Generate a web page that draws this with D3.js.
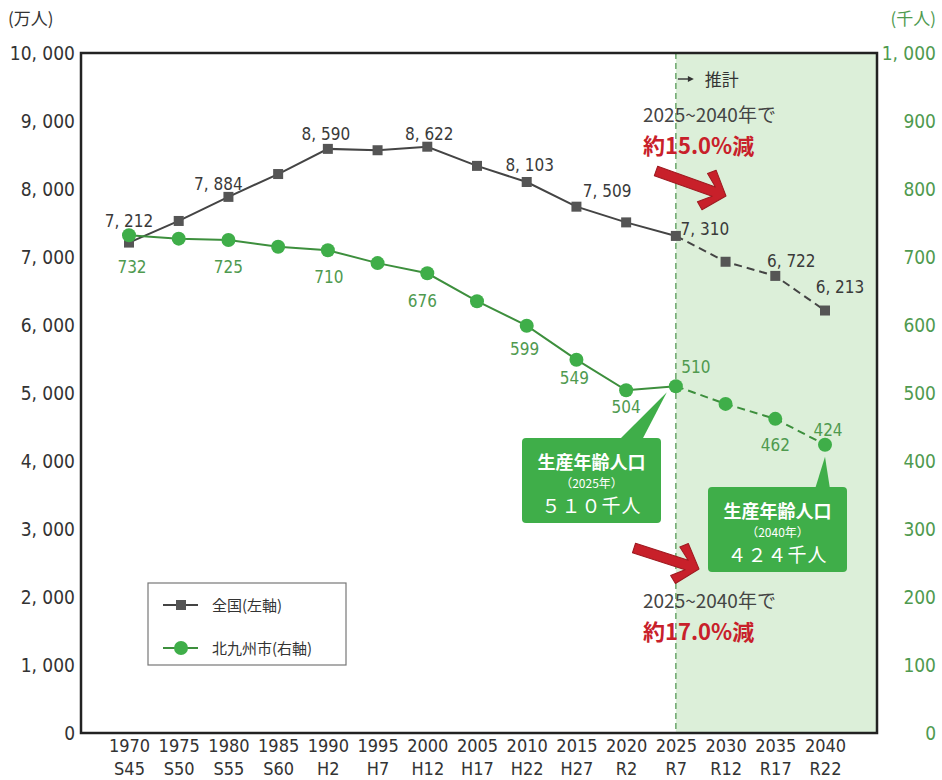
<!DOCTYPE html>
<html lang="ja">
<head>
<meta charset="utf-8">
<script src="https://cdn.jsdelivr.net/npm/d3@7/dist/d3.min.js"></script>
<style>
  body { margin: 0; background: #fff; }
  svg { display: block; }
  .num { font-family: "Liberation Sans Narrow", "DejaVu Sans Condensed", "Roboto Condensed", sans-serif; }
  .jp { font-family: "Noto Sans CJK JP", "Noto Sans", sans-serif; }
</style>
</head>
<body>
<svg id="chart" width="942" height="780"></svg>
<script>
// ---- data ----
const years = [1970, 1975, 1980, 1985, 1990, 1995, 2000, 2005, 2010, 2015, 2020, 2025, 2030, 2035, 2040];
const eraLabels = ["S45", "S50", "S55", "S60", "H2", "H7", "H12", "H17", "H22", "H27", "R2", "R7", "R12", "R17", "R22"];
// 全国 生産年齢人口（万人）
const nationalValues = [7212, 7530, 7884, 8220, 8590, 8570, 8622, 8340, 8103, 7740, 7509, 7310, 6930, 6722, 6213];
// 北九州市 生産年齢人口（千人）
const cityValues = [732, 727, 725, 715, 710, 691, 676, 635, 599, 549, 504, 510, 484, 462, 424];
const leftTicks = [0, 1000, 2000, 3000, 4000, 5000, 6000, 7000, 8000, 9000, 10000];
const rightTicks = [0, 100, 200, 300, 400, 500, 600, 700, 800, 900, 1000];
const nationalLabelYears = [1970, 1980, 1990, 2000, 2010, 2020, 2025, 2035, 2040];
const cityLabelYears = [1970, 1980, 1990, 2000, 2010, 2015, 2020, 2025, 2035, 2040];
const projectionStart = 2025;
const legendNames = ["全国(左軸)", "北九州市(右軸)"];

// ---- layout ----
const plot = { left: 81, right: 877, top: 53, bottom: 733 };
const green = "#3fae49", greenLine = "#3d8f3d", greenText = "#4f9a4f", red = "#c8202a";

const svg = d3.select("#chart");

const x = d3.scaleLinear().domain([1970, 2040]).range([plot.left + 48, plot.right - 52]);
const yL = d3.scaleLinear().domain([0, 10000]).range([plot.bottom, plot.top]);
const yR = d3.scaleLinear().domain([0, 1000]).range([plot.bottom, plot.top]);

const fmt = v => d3.format(",")(v).replace(",", ", ");

const natData = years.map((yr, i) => ({ year: yr, v: nationalValues[i] }));
const cityData = years.map((yr, i) => ({ year: yr, v: cityValues[i] }));

// projection shading
svg.append("rect")
  .attr("x", x(projectionStart)).attr("y", plot.top)
  .attr("width", plot.right - x(projectionStart)).attr("height", plot.bottom - plot.top)
  .attr("fill", "#dcefd9");

svg.append("line")
  .attr("x1", x(projectionStart)).attr("x2", x(projectionStart))
  .attr("y1", plot.top).attr("y2", plot.bottom)
  .attr("stroke", "#6aa56a").attr("stroke-width", 1.5).attr("stroke-dasharray", "6,4");

// frame
svg.append("rect")
  .attr("x", plot.left).attr("y", plot.top)
  .attr("width", plot.right - plot.left).attr("height", plot.bottom - plot.top)
  .attr("fill", "none").attr("stroke", "#222").attr("stroke-width", 2.5);

// axes
const leftAxis = svg.append("g").attr("class", "num")
  .attr("transform", `translate(${plot.left - 6},0)`)
  .call(d3.axisLeft(yL).tickValues(leftTicks).tickSize(0).tickPadding(0).tickFormat(fmt));
leftAxis.select(".domain").remove();
leftAxis.selectAll("text").attr("fill", "#333").style("font-size", "19px").attr("dy", "0.35em");

const rightAxis = svg.append("g").attr("class", "num")
  .attr("transform", `translate(936,0)`)
  .call(d3.axisLeft(yR).tickValues(rightTicks).tickSize(0).tickPadding(0).tickFormat(fmt));
rightAxis.select(".domain").remove();
rightAxis.selectAll("text").attr("fill", greenText).style("font-size", "19px").attr("dy", "0.35em");

const xAxis = svg.append("g").attr("class", "num")
  .attr("transform", `translate(0,${plot.bottom})`)
  .call(d3.axisBottom(x).tickValues(years).tickSize(0).tickFormat(""));
xAxis.select(".domain").remove();
xAxis.selectAll(".tick").each(function (d, i) {
  const t = d3.select(this);
  t.select("text").remove();
  t.append("text").attr("y", 19).attr("text-anchor", "middle").attr("fill", "#333")
    .style("font-size", "18px").text(d);
  t.append("text").attr("y", 42).attr("text-anchor", "middle").attr("fill", "#333")
    .style("font-size", "18px").text(eraLabels[i]);
});

// axis unit titles
svg.append("text").attr("class", "jp").attr("x", 8).attr("y", 25)
  .attr("fill", "#333").style("font-size", "17px").text("(万人)");
svg.append("text").attr("class", "jp").attr("x", 936).attr("y", 25).attr("text-anchor", "end")
  .attr("fill", greenText).style("font-size", "17px").text("(千人)");

// lines
const natLine = d3.line().x(d => x(d.year)).y(d => yL(d.v));
const cityLine = d3.line().x(d => x(d.year)).y(d => yR(d.v));

svg.append("path").datum(natData.filter(d => d.year <= projectionStart))
  .attr("d", natLine).attr("fill", "none").attr("stroke", "#444").attr("stroke-width", 2);
svg.append("path").datum(natData.filter(d => d.year >= projectionStart))
  .attr("d", natLine).attr("fill", "none").attr("stroke", "#444").attr("stroke-width", 2)
  .attr("stroke-dasharray", "8,5");

svg.append("path").datum(cityData.filter(d => d.year <= projectionStart))
  .attr("d", cityLine).attr("fill", "none").attr("stroke", greenLine).attr("stroke-width", 2);
svg.append("path").datum(cityData.filter(d => d.year >= projectionStart))
  .attr("d", cityLine).attr("fill", "none").attr("stroke", greenLine).attr("stroke-width", 2)
  .attr("stroke-dasharray", "8,5");

// markers
svg.append("g").selectAll("rect").data(natData).join("rect")
  .attr("x", d => x(d.year) - 5).attr("y", d => yL(d.v) - 5)
  .attr("width", 10).attr("height", 10).attr("fill", "#555");

svg.append("g").selectAll("circle").data(cityData).join("circle")
  .attr("cx", d => x(d.year)).attr("cy", d => yR(d.v)).attr("r", 7)
  .attr("fill", green);

// value labels (offsets from each marker)
const natLabelOffset = {
  1970: [0, -16], 1980: [-10, -7], 1990: [-2, -9], 2000: [2, -7], 2010: [3, -11],
  2020: [-19, -25], 2025: [29, -1], 2035: [16, -9], 2040: [15, -18]
};
const cityLabelOffset = {
  1970: [3, 38], 1980: [0, 33], 1990: [1, 33], 2000: [-5, 34], 2010: [-2, 29],
  2015: [-2, 24], 2020: [0, 23], 2025: [20, -13], 2035: [0, 32], 2040: [3, -9]
};

svg.append("g").attr("class", "num").selectAll("text")
  .data(natData.filter(d => nationalLabelYears.includes(d.year))).join("text")
  .attr("x", d => x(d.year) + natLabelOffset[d.year][0])
  .attr("y", d => yL(d.v) + natLabelOffset[d.year][1])
  .attr("text-anchor", "middle").attr("fill", "#3a3a3a").style("font-size", "17px")
  .text(d => fmt(d.v));

svg.append("g").attr("class", "num").selectAll("text")
  .data(cityData.filter(d => cityLabelYears.includes(d.year))).join("text")
  .attr("x", d => x(d.year) + cityLabelOffset[d.year][0])
  .attr("y", d => yR(d.v) + cityLabelOffset[d.year][1])
  .attr("text-anchor", "middle").attr("fill", greenText).style("font-size", "17px")
  .text(d => fmt(d.v));

// projection marker text
const px = x(projectionStart);
svg.append("line").attr("x1", px + 2).attr("x2", px + 14).attr("y1", 79).attr("y2", 79)
  .attr("stroke", "#333").attr("stroke-width", 1.4);
svg.append("path").attr("d", `M${px + 18},79 L${px + 12},76 L${px + 12},82 Z`).attr("fill", "#333");
svg.append("text").attr("class", "jp").attr("x", px + 29).attr("y", 86)
  .attr("fill", "#333").style("font-size", "17px").text("推計");

// decline annotations
function annotation(ax, ay, line2) {
  svg.append("text").attr("class", "jp").attr("x", ax).attr("y", ay)
    .attr("fill", "#444").style("font-size", "19px").text("2025~2040年で");
  svg.append("text").attr("class", "jp").attr("x", ax).attr("y", ay + 32)
    .attr("fill", red).style("font-size", "22px").style("font-weight", "bold").text(line2);
}
annotation(643, 122, "約15.0%減");
annotation(643, 608, "約17.0%減");

// red arrows
function arrow(x0, y0, x1, y1) {
  const L = Math.hypot(x1 - x0, y1 - y0);
  const a = Math.atan2(y1 - y0, x1 - x0) * 180 / Math.PI;
  const pts = [[0, -5], [L - 13, -5], [L - 25, -15], [L - 18, -21], [L, 0],
               [L - 18, 21], [L - 25, 15], [L - 13, 5], [0, 5]];
  svg.append("polygon")
    .attr("points", pts.map(p => p.join(",")).join(" "))
    .attr("transform", `translate(${x0},${y0}) rotate(${a})`)
    .attr("fill", red).attr("stroke", "#9e1a20").attr("stroke-width", 1)
    .attr("stroke-linejoin", "round");
}
arrow(656, 171, 726, 196);
arrow(634, 548, 699, 569);

// callout boxes
function callout(bx, by, bw, bh, base0, base1, tip, yearText, valueText) {
  svg.append("path")
    .attr("d", `M${base0},${by + 2} L${tip[0]},${tip[1]} L${base1},${by + 2} Z`)
    .attr("fill", green);
  svg.append("rect").attr("x", bx).attr("y", by).attr("width", bw).attr("height", bh)
    .attr("rx", 4).attr("fill", green);
  const cx = bx + bw / 2;
  svg.append("text").attr("class", "jp").attr("x", cx).attr("y", by + 31)
    .attr("text-anchor", "middle").attr("fill", "#fff").style("font-size", "18px")
    .style("font-weight", "bold").text("生産年齢人口");
  svg.append("text").attr("class", "jp").attr("x", cx).attr("y", by + 50)
    .attr("text-anchor", "middle").attr("fill", "#fff").style("font-size", "12px")
    .text(yearText);
  svg.append("text").attr("class", "jp").attr("x", cx).attr("y", by + 75)
    .attr("text-anchor", "middle").attr("fill", "#fff").style("font-size", "19px")
    .style("letter-spacing", "1px").text(valueText);
}
callout(522, 438, 139, 85, 619, 642, [x(2025) - 9, yR(510) + 6], "（2025年）", "５１０千人");
callout(708, 487, 139, 85, 815, 830, [x(2040), yR(424) + 12], "（2040年）", "４２４千人");

// legend
const lg = svg.append("g").attr("transform", "translate(148,583)");
lg.append("rect").attr("width", 198).attr("height", 82)
  .attr("fill", "#fff").attr("stroke", "#777").attr("stroke-width", 1.2);
lg.append("line").attr("x1", 15).attr("x2", 50).attr("y1", 22).attr("y2", 22)
  .attr("stroke", "#444").attr("stroke-width", 2);
lg.append("rect").attr("x", 28).attr("y", 17).attr("width", 10).attr("height", 10).attr("fill", "#555");
lg.append("line").attr("x1", 15).attr("x2", 50).attr("y1", 65).attr("y2", 65)
  .attr("stroke", greenLine).attr("stroke-width", 2);
lg.append("circle").attr("cx", 33).attr("cy", 65).attr("r", 7).attr("fill", green);
lg.selectAll("text.name").data(legendNames).join("text")
  .attr("class", "jp name").attr("x", 64).attr("y", (d, i) => 28 + i * 43)
  .attr("fill", "#333").style("font-size", "15px").text(d => d);
</script>
</body>
</html>
